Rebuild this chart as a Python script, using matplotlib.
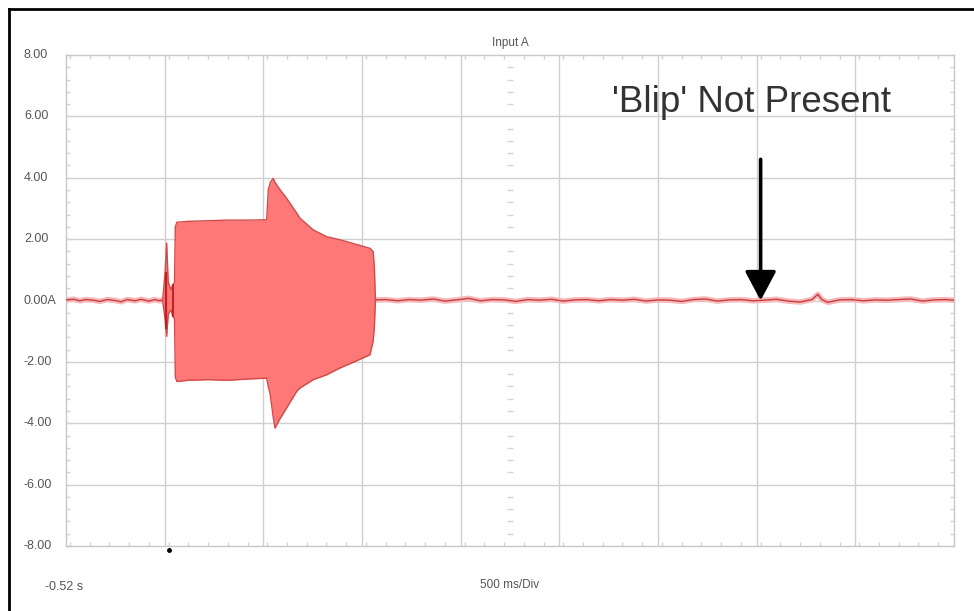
import matplotlib
matplotlib.use("Agg")
import matplotlib.pyplot as plt
from matplotlib.ticker import MultipleLocator
from matplotlib.transforms import blended_transform_factory
from matplotlib.lines import Line2D

plt.rcParams['font.family'] = ['Liberation Sans', 'DejaVu Sans']

# ---- data -------------------------------------------------------------
title = "Input A"
t_start = -0.52          # s, left edge of the screen
div_s = 0.5              # 500 ms per division
n_div = 9

y_ticks = [8, 6, 4, 2, 0, -2, -4, -6, -8]
y_labels = ["8.00", "6.00", "4.00", "2.00", "0.00A", "-2.00", "-4.00", "-6.00", "-8.00"]

# quiet trace before the injector burst
pre_t = [-0.52, -0.48, -0.45, -0.42, -0.38, -0.35, -0.31, -0.28, -0.24, -0.21,
         -0.17, -0.14, -0.10, -0.07, -0.045, -0.03]
pre_v = [0.02, 0.04, -0.01, 0.03, 0.01, -0.03, 0.03, 0.01, -0.04, 0.03,
         -0.01, 0.04, -0.02, 0.03, -0.01, 0.02]

# burst envelope (upper / lower peak values)
env_t = [-0.03, -0.018, -0.01, -0.002, 0.012, 0.02, 0.03, 0.034, 0.042, 0.1, 0.2,
         0.3, 0.4, 0.497, 0.505, 0.515, 0.53, 0.539, 0.56, 0.598, 0.649, 0.666,
         0.733, 0.801, 0.868, 0.94, 1.02, 1.037, 1.043, 1.048]
env_hi = [0.03, 0.9, 1.87, 0.6, 0.35, 0.5, 0.6, 2.4, 2.55, 2.58, 2.6,
          2.62, 2.62, 2.63, 3.6, 3.85, 3.98, 3.85, 3.65, 3.33, 2.85, 2.68,
          2.30, 2.08, 1.98, 1.85, 1.70, 1.59, 1.0, 0.03]
env_lo = [-0.03, -0.6, -1.17, -0.45, -0.3, -0.5, -0.6, -2.5, -2.64, -2.6, -2.58,
          -2.6, -2.56, -2.53, -2.8, -3.07, -3.8, -4.16, -3.9, -3.5, -2.96, -2.85,
          -2.58, -2.42, -2.2, -2.0, -1.77, -1.3, -0.8, -0.03]

# quiet trace after the burst
post_t = [1.048, 1.10, 1.16, 1.22, 1.28, 1.34, 1.40, 1.46, 1.52, 1.58, 1.64,
          1.70, 1.76, 1.82, 1.88, 1.94, 2.00, 2.06, 2.12, 2.18, 2.24, 2.30,
          2.36, 2.42, 2.48, 2.54, 2.60, 2.66, 2.72, 2.78, 2.84, 2.90, 2.96,
          3.02, 3.08, 3.14, 3.20, 3.26, 3.29, 3.31, 3.34, 3.40, 3.46, 3.52,
          3.58, 3.64, 3.70, 3.76, 3.82, 3.88, 3.94, 3.98]
post_v = [0.02, 0.03, -0.01, 0.03, 0.01, 0.05, -0.02, 0.02, 0.07, -0.01, 0.03,
          0.02, -0.03, 0.03, 0.01, 0.04, -0.02, 0.02, 0.03, -0.01, 0.03, 0.01,
          0.04, -0.02, 0.02, 0.01, -0.03, 0.03, 0.05, -0.02, 0.02, 0.03, -0.01,
          0.01, 0.04, -0.02, -0.05, 0.03, 0.2, 0.03, -0.06, 0.02, 0.03, -0.01,
          0.02, 0.01, 0.03, 0.05, -0.02, 0.02, 0.03, 0.01]

note_text = "'Blip' Not Present"
arrow_t = 3.0
arrow_from = 4.6
arrow_to = 0.0

# ---- figure ----------------------------------------------------------
fig = plt.figure(figsize=(9.74, 6.11), dpi=100)
ax = fig.add_axes([66 / 974, 1 - 546 / 611, 888 / 974, 491 / 611])

t_end = t_start + n_div * div_s
ax.set_xlim(t_start, t_end)
ax.set_ylim(-8, 8)

grid_c = "#cfcfcf"
for k in range(1, n_div):
    ax.axvline(t_start + k * div_s, color=grid_c, lw=1.0, zorder=0)
for y in y_ticks[1:-1]:
    ax.axhline(y, color=grid_c, lw=1.0, zorder=0)
for s in ax.spines.values():
    s.set_color("#c8c8c8")
    s.set_linewidth(1.0)

ax.set_xticks([])
ax.set_yticks([])
ax.xaxis.set_minor_locator(MultipleLocator(div_s / 5))
ax.yaxis.set_minor_locator(MultipleLocator(0.4))
ax.tick_params(which="minor", direction="in", length=3, width=1,
               color="#d2d2d2", top=True, right=True, bottom=True, left=True)
ax.xaxis.set_minor_formatter(plt.NullFormatter())
ax.yaxis.set_minor_formatter(plt.NullFormatter())

# centre-line graticule dashes
t_mid = t_start + n_div * div_s / 2
mid_y = [v * 0.4 for v in range(-19, 20) if v % 5 != 0]
ax.plot([t_mid] * len(mid_y), mid_y, linestyle="none", marker="_",
        markersize=5, color="#d4d4d4", zorder=1)

# trace
halo = "#f7b9b9"
trace = "#c83c3c"
for tt, vv in ((pre_t, pre_v), (post_t, post_v)):
    ax.plot(tt, vv, color=halo, lw=4, solid_capstyle="round", zorder=2)
    ax.plot(tt, vv, color=trace, lw=1.0, zorder=3)

ax.fill_between(env_t, env_lo, env_hi, color="#ff7878", lw=0, zorder=2)
ax.plot(env_t, env_hi, color="#d24a4a", lw=1.0, zorder=3)
ax.plot(env_t, env_lo, color="#d24a4a", lw=1.0, zorder=3)
ax.plot([-0.012, -0.012], [-0.9, 0.9], color="#c02020", lw=1.6, zorder=4)
ax.plot([0.02, 0.02], [-0.5, 0.5], color="#c02020", lw=1.4, zorder=4)

# trigger marker below the screen
ax.plot([0.0], [-8.12], marker="o", markersize=2.5, color="black",
        clip_on=False, zorder=5)

# labels
label_c = "#555555"
ax.text(t_mid, 8.4, title, ha="center", va="center", fontsize=8.5,
        color=label_c)
tr = blended_transform_factory(fig.transFigure, ax.transData)
for y, lab in zip(y_ticks, y_labels):
    ax.text(24 / 974, y, lab, transform=tr, ha="left", va="center",
            fontsize=9, color=label_c)
fig.text(45 / 974, 1 - 587 / 611, f"{t_start:.2f} s", ha="left", va="center",
         fontsize=9, color=label_c)
fig.text(510 / 974, 1 - 585 / 611, f"{int(div_s * 1000)} ms/Div",
         ha="center", va="center", fontsize=8.5, color=label_c)

ax.text(2.247, 6.45, note_text, ha="left", va="center", fontsize=26.5,
        color="#333333", zorder=6)
ax.annotate("", xy=(arrow_t, arrow_to), xytext=(arrow_t, arrow_from),
            arrowprops=dict(arrowstyle="-|>,head_length=0.6,head_width=0.32",
                            mutation_scale=30, lw=2.6, color="black",
                            shrinkA=0, shrinkB=0), zorder=6)

# outer frame (top and left edges)
fig.add_artist(Line2D([8.5 / 974, 8.5 / 974], [0, 1 - 9 / 611],
                      transform=fig.transFigure, color="black", lw=2))
fig.add_artist(Line2D([8.5 / 974, 1], [1 - 9 / 611, 1 - 9 / 611],
                      transform=fig.transFigure, color="black", lw=2))

fig.savefig("out.png", dpi=100, facecolor="white")
